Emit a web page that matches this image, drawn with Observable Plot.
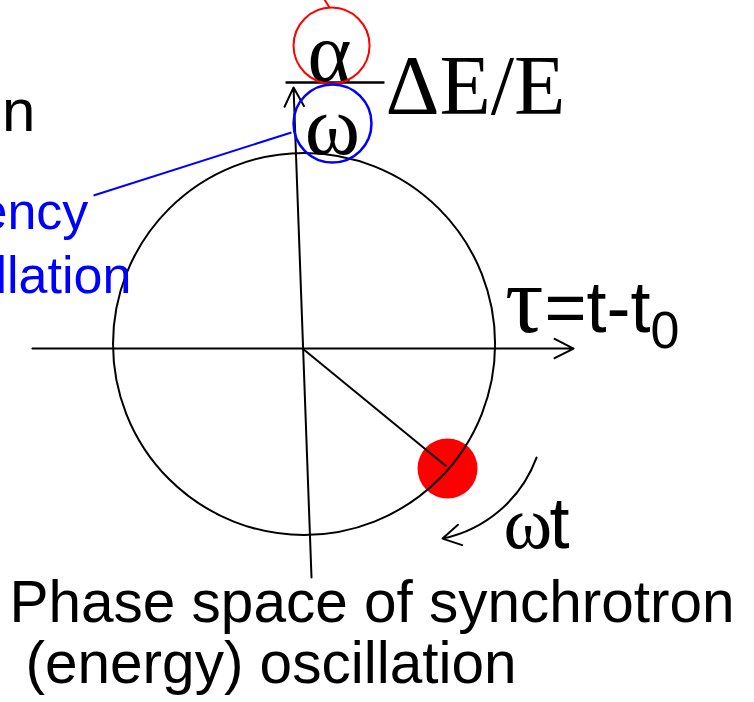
<!DOCTYPE html>
<html><head><meta charset="utf-8">
<script src="https://cdn.jsdelivr.net/npm/d3@7"></script>
<script src="https://cdn.jsdelivr.net/npm/@observablehq/plot@0.6"></script>
<style>html,body{margin:0;padding:0;background:#fff;}</style>
</head><body><div id="chart"></div>
<script>
// Phase-space units: oscillation amplitude = 1, origin at the centre of the orbit
const tauDomain = [-1.586, 2.361];
const dEDomain = [-1.874, 1.801];
const amplitude = 1;
const orbit = [{tau: 0.003, dE: 0.003}];
const particle = [{tau: 0.754, dE: -0.649}];
const particleSize = 0.157;
const radiusVector = [{tau1: -0.005, dE1: -0.021, tau2: 0.749, dE2: -0.639}];
const axisTau = [{tau1: -1.419, dE1: -0.021, tau2: 1.414, dE2: -0.021}];
const axisDE = [{tau1: 0.042, dE1: -1.220, tau2: -0.052, dE2: 1.346}];
const rotation = [{tau1: 1.220, dE1: -0.592, tau2: 0.728, dE2: -1.016}];
const fractionBar = [{tau1: -0.094, dE1: 1.372, tau2: 0.424, dE2: 1.372}];
const alphaMark = [{tau: 0.147, dE: 1.565}];
const alphaMarkSize = 0.199;
const omegaMark = [{tau: 0.152, dE: 1.157}];
const omegaMarkSize = 0.204;
const alphaPointer = [{tau1: 0.136, dE1: 1.764, tau2: 0.110, dE2: 1.806}];
const omegaPointer = [{tau1: -1.099, dE1: 0.780, tau2: -0.063, dE2: 1.110}];

const fractionParts = [
  {text: "α", tau: 0.136, dE: 1.377},
  {text: "ω", tau: 0.152, dE: 0.995}
];
const energyLabel = [{text: "ΔE/E", tau: 0.429, dE: 1.209}];
const tauLabel = [{text: "τ", tau: 1.055, dE: 0.063}];
const tauDef = [{text: "=t-t", tau: 1.262, dE: 0.063}];
const tauSub = [{text: "0", tau: 1.817, dE: -0.016}];
const omegaT = [{text: "ω", tau: 1.047, dE: -1.063}];
const omegaTt = [{text: "t", tau: 1.288, dE: -1.063}];
const leftBlack = [{text: "oscillation", tau: -1.403, dE: 1.120}];
const leftBlue = [
  {text: "frequency", tau: -1.126, dE: 0.607},
  {text: "oscillation", tau: -0.901, dE: 0.272}
];
const caption = [
  {text: "Phase space of synchrotron", tau: -1.539, dE: -1.455},
  {text: "(energy) oscillation", tau: -1.455, dE: -1.770}
];

const W = 754, H = 702;
const pxPerUnit = W / (tauDomain[1] - tauDomain[0]);

const seg = (data, opts) => Plot.link(data, {x1: "tau1", y1: "dE1", x2: "tau2", y2: "dE2", ...opts});
const arr = (data, opts) => Plot.arrow(data, {x1: "tau1", y1: "dE1", x2: "tau2", y2: "dE2", ...opts});
const label = (data, opts) => Plot.text(data, {x: "tau", y: "dE", text: "text", lineAnchor: "bottom", ...opts});

const chart = Plot.plot({
  width: W, height: H, margin: 0,
  x: {domain: tauDomain, axis: null},
  y: {domain: dEDomain, axis: null},
  style: {background: "white", overflow: "hidden"},
  marks: [
    Plot.dot(particle, {x: "tau", y: "dE", r: particleSize * pxPerUnit, fill: "#ff0000", stroke: "none"}),
    Plot.dot(orbit, {x: "tau", y: "dE", r: amplitude * pxPerUnit, stroke: "black", strokeWidth: 2, fill: "none"}),
    arr(axisTau, {stroke: "black", strokeWidth: 2, headLength: 16, headAngle: 54}),
    arr(axisDE, {stroke: "black", strokeWidth: 2, headLength: 16, headAngle: 54}),
    seg(radiusVector, {stroke: "black", strokeWidth: 2}),
    arr(rotation, {bend: 29, stroke: "black", strokeWidth: 2, headLength: 15.5, headAngle: 60}),
    seg(fractionBar, {stroke: "black", strokeWidth: 2.5}),
    label(fractionParts, {textAnchor: "middle", fontFamily: "Liberation Serif", fontSize: 84, fill: "black"}),
    label(energyLabel, {textAnchor: "start", fontFamily: "Liberation Serif", fontSize: 84, fill: "black"}),
    Plot.dot(alphaMark, {x: "tau", y: "dE", r: alphaMarkSize * pxPerUnit, stroke: "#ff0000", strokeWidth: 2, fill: "none"}),
    Plot.dot(omegaMark, {x: "tau", y: "dE", r: omegaMarkSize * pxPerUnit, stroke: "#0000ff", strokeWidth: 2.5, fill: "none"}),
    seg(alphaPointer, {stroke: "#ff0000", strokeWidth: 2}),
    seg(omegaPointer, {stroke: "#0000ff", strokeWidth: 2}),
    label(tauLabel, {textAnchor: "start", fontFamily: "Liberation Serif", fontSize: 96, fill: "black"}),
    label(tauDef, {textAnchor: "start", fontFamily: "Liberation Sans", fontSize: 72, fill: "black"}),
    label(tauSub, {textAnchor: "start", fontFamily: "Liberation Sans", fontSize: 52, fill: "black"}),
    label(omegaT, {textAnchor: "start", fontFamily: "Liberation Serif", fontSize: 74, fill: "black"}),
    label(omegaTt, {textAnchor: "start", fontFamily: "Liberation Sans", fontSize: 72, fill: "black"}),
    label(leftBlack, {textAnchor: "end", fontFamily: "Liberation Sans", fontSize: 60, fill: "black"}),
    label(leftBlue, {textAnchor: "end", fontFamily: "Liberation Sans", fontSize: 52, fill: "#0000ff"}),
    label(caption, {textAnchor: "start", fontFamily: "Liberation Sans", fontSize: 58.5, fill: "black"})
  ]
});
document.getElementById("chart").appendChild(chart);
</script>
</body></html>
